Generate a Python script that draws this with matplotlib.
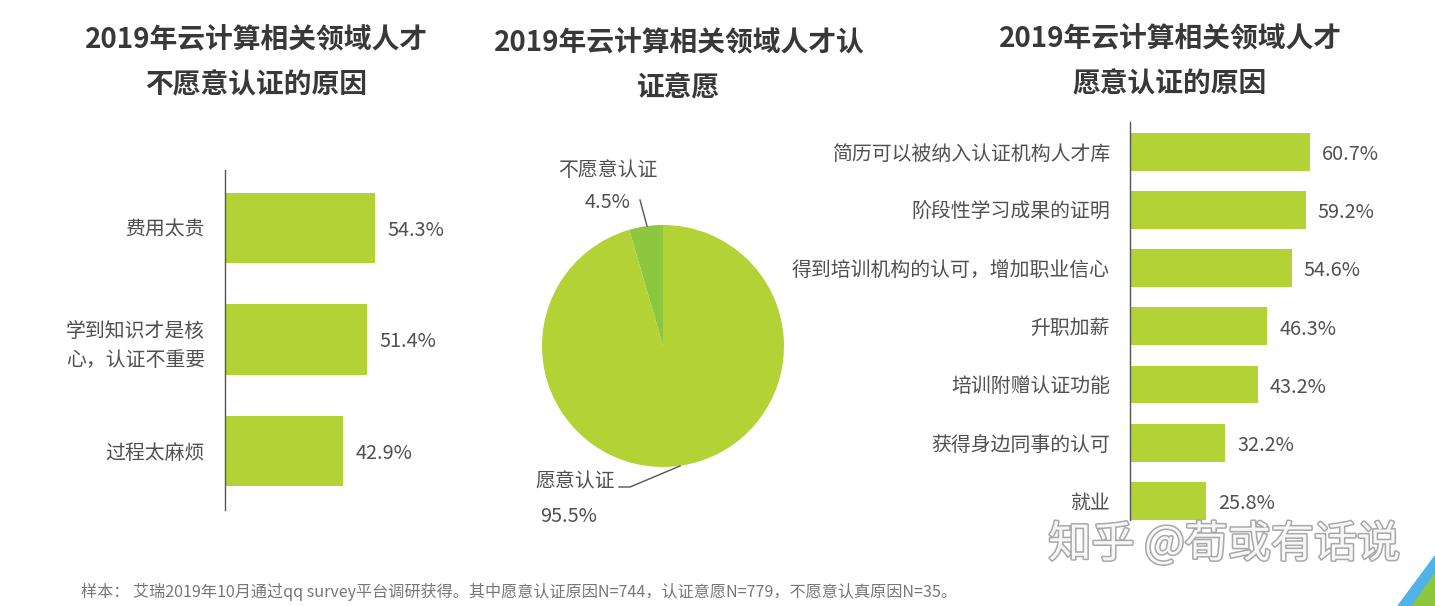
import matplotlib
matplotlib.use("Agg")
import matplotlib.pyplot as plt
from matplotlib.patches import Polygon
import matplotlib.patheffects as pe

plt.rcParams['font.family'] = ['Noto Sans CJK SC', 'DejaVu Sans']

# ---- data ----
left_title = "2019年云计算相关领域人才\n不愿意认证的原因"
left_cats = ["费用太贵", "学到知识才是核\n心，认证不重要", "过程太麻烦"]
left_vals = [54.3, 51.4, 42.9]

pie_title = "2019年云计算相关领域人才认\n证意愿"
pie_labels = ["不愿意认证", "愿意认证"]
pie_vals = [4.5, 95.5]

right_title = "2019年云计算相关领域人才\n愿意认证的原因"
right_cats = ["简历可以被纳入认证机构人才库", "阶段性学习成果的证明",
              "得到培训机构的认可，增加职业信心", "升职加薪", "培训附赠认证功能",
              "获得身边同事的认可", "就业"]
right_vals = [60.7, 59.2, 54.6, 46.3, 43.2, 32.2, 25.8]

footnote = "样本： 艾瑞2019年10月通过qq survey平台调研获得。其中愿意认证原因N=744，认证意愿N=779，不愿意认真原因N=35。"
watermark = "知乎 @荀或有话说"

BAR = "#B2D235"
SMALL = "#8DC63F"
TXT = "#505050"
TITLE = "#383838"
FS = 14.3
TFS = 20

W, H = 1435, 606
fig = plt.figure(figsize=(W / 100, H / 100), dpi=100)
fig.patch.set_facecolor("white")

def fx(x):
    return x / W

def fy(y):
    return 1 - y / H

def rect(l, t, r, b):
    return [fx(l), fy(b), (r - l) / W, (b - t) / H]

def style_bar_axes(ax):
    for s in ["top", "right", "bottom"]:
        ax.spines[s].set_visible(False)
    ax.spines["left"].set_color("#555555")
    ax.spines["left"].set_linewidth(1.0)
    ax.set_xticks([])
    ax.tick_params(axis="y", length=0, pad=14.5, labelsize=FS, labelcolor=TXT)

# ---- left bar chart ----
axL = fig.add_axes(rect(225, 170, 501, 510))
yl = list(range(len(left_cats)))
axL.barh(yl, left_vals, height=0.63, color=BAR)
axL.set_xlim(0, 100)
axL.set_ylim(2.53, -0.52)
axL.set_yticks(yl)
axL.set_yticklabels(left_cats, linespacing=1.5)
style_bar_axes(axL)
for y, v in zip(yl, left_vals):
    axL.text(v + 4.4, y + 0.02, f"{v}%", va="center", ha="left", fontsize=FS, color=TXT)
fig.text(fx(256), fy(63), left_title, ha="center", va="center", fontsize=TFS,
         fontweight="bold", color=TITLE, linespacing=1.75)

# ---- pie chart ----
axP = fig.add_axes(rect(542, 225, 784, 467))
axP.pie(pie_vals, colors=[SMALL, BAR], startangle=90, counterclock=True, radius=1.0,
        wedgeprops=dict(linewidth=0))
axP.set_xlim(-1, 1)
axP.set_ylim(-1, 1)
axP.set_aspect("equal")
axP.axis("off")
fig.text(fx(679), fy(66), pie_title, ha="center", va="center", fontsize=TFS,
         fontweight="bold", color=TITLE, linespacing=1.75)
fig.text(fx(608), fy(170), pie_labels[0], ha="center", va="center", fontsize=FS, color=TXT)
fig.text(fx(608), fy(203), f"{pie_vals[0]}%", ha="center", va="center", fontsize=FS, color=TXT)
fig.text(fx(575), fy(482), pie_labels[1], ha="center", va="center", fontsize=FS, color=TXT)
fig.text(fx(569), fy(516), f"{pie_vals[1]}%", ha="center", va="center", fontsize=FS, color=TXT)
fig.add_artist(plt.Line2D([fx(640), fx(647)], [fy(200), fy(226)], color="#555555", lw=1))
fig.add_artist(plt.Line2D([fx(619), fx(630), fx(680)], [fy(487), fy(487), fy(466)],
                          color="#555555", lw=1))

# ---- right bar chart ----
axR = fig.add_axes(rect(1130, 122, 1426.5, 520))
yr = list(range(len(right_cats)))
axR.barh(yr, right_vals, height=0.65, color=BAR)
axR.set_xlim(0, 100)
axR.set_ylim(6.33, -0.51)
axR.set_yticks(yr)
axR.set_yticklabels(right_cats)
style_bar_axes(axR)
for y, v in zip(yr, right_vals):
    axR.text(v + 4.0, y + 0.05, f"{v}%", va="center", ha="left", fontsize=FS, color=TXT)
fig.text(fx(1170), fy(62), right_title, ha="center", va="center", fontsize=TFS,
         fontweight="bold", color=TITLE, linespacing=1.75)

# ---- footnote & watermark ----
fig.text(fx(81), fy(592), footnote, ha="left", va="center", fontsize=11.6, color="#777777")
fig.text(fx(1224), fy(545), watermark, ha="center", va="center", fontsize=31,
         color="#F7F7F7",
         path_effects=[pe.withStroke(linewidth=2.2, foreground="#A8A8A8")])

# ---- corner decoration ----
fig.add_artist(Polygon([(fx(1398), fy(606)), (fx(1435), fy(556)), (fx(1435), fy(574)),
                        (fx(1412), fy(606))], closed=True, color="#4FB3E8",
                       transform=fig.transFigure))
fig.add_artist(Polygon([(fx(1412), fy(606)), (fx(1435), fy(574)), (fx(1435), fy(606))],
                       closed=True, color="#8DC63F", transform=fig.transFigure))

fig.savefig("out.png", dpi=100, facecolor="white")
